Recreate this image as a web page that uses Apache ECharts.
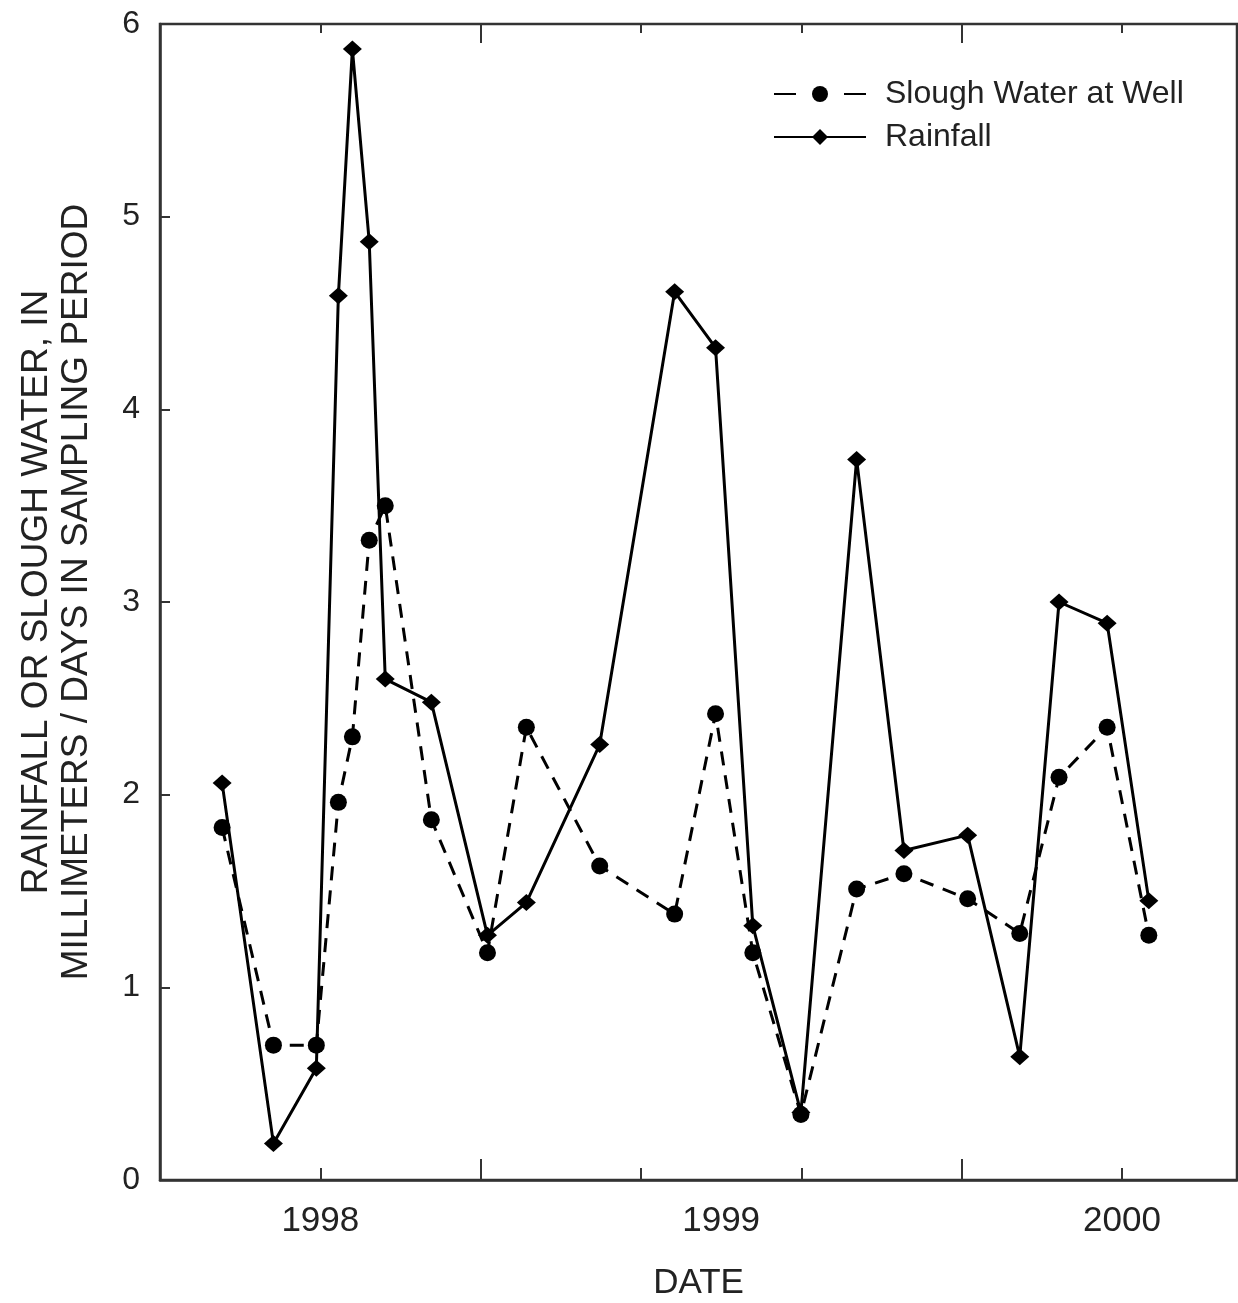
<!DOCTYPE html>
<html>
<head>
<meta charset="utf-8">
<title>Rainfall and slough water</title>
<script src="https://cdn.jsdelivr.net/npm/echarts@6/dist/echarts.min.js"></script>
<style>
  html, body { margin: 0; padding: 0; background: #fff; }
  #chart { width: 1238px; height: 1303px; }
</style>
</head>
<body>
<div id="chart"></div>
<script>
// Sampling dates as decimal years (end of each sampling period)
const sampleDates = [1997.755, 1997.883, 1997.990, 1998.045, 1998.080, 1998.122, 1998.162,
  1998.277, 1998.417, 1998.514, 1998.697, 1998.884, 1998.986, 1999.079, 1999.199,
  1999.338, 1999.456, 1999.615, 1999.745, 1999.843, 1999.963, 2000.067];

// Millimeters per day in each sampling period
const rainfall = [2.06, 0.19, 0.58, 4.59, 5.87, 4.87, 2.60, 2.48, 1.27, 1.44, 2.26,
  4.61, 4.32, 1.32, 0.35, 3.74, 1.71, 1.79, 0.64, 3.00, 2.89, 1.45];
const sloughWater = [1.83, 0.70, 0.70, 1.96, 2.30, 3.32, 3.50, 1.87, 1.18, 2.35, 1.63,
  1.38, 2.42, 1.18, 0.34, 1.51, 1.59, 1.46, 1.28, 2.09, 2.35, 1.27];

// Axis marks
const yearLabels = [1998, 1999, 2000];
const shortTicks = [1998.0, 1998.8, 1999.2, 2000.0];
const longTicks = [1998.4, 1999.6];

const X_MIN = 1997.6, X_MAX = 2000.287;
const FONT = '"Liberation Sans", Arial, Helvetica, sans-serif';
const INK = '#222';
const AXIS = '#333';

function pairs(xs, ys) { return xs.map((x, i) => [x, ys[i]]); }

function tickAxis(position, ticks, len, withLabels) {
  return {
    type: 'value', position: position, min: X_MIN, max: X_MAX,
    axisLine: { show: withLabels, lineStyle: { color: AXIS, width: 2.5 } },
    splitLine: { show: false },
    axisTick: { show: true, inside: true, length: len, customValues: ticks,
      lineStyle: { color: AXIS, width: 2 } },
    axisLabel: withLabels ? {
      show: true, customValues: yearLabels, margin: 24,
      fontSize: 35, color: INK, fontFamily: FONT,
      formatter: v => String(Math.round(v))
    } : { show: false },
    name: withLabels ? 'DATE' : '',
    nameLocation: 'middle', nameGap: 86,
    nameTextStyle: { fontSize: 35, color: INK, fontFamily: FONT }
  };
}

const chart = echarts.init(document.getElementById('chart'), null, { renderer: 'canvas' });
chart.setOption({
  animation: false,
  backgroundColor: '#fff',
  grid: { left: 160, right: 1, top: 24, bottom: 123, show: true,
    outerBoundsMode: 'none', containLabel: false,
    borderColor: AXIS, borderWidth: 2.5, backgroundColor: 'transparent' },
  xAxis: [
    tickAxis('bottom', shortTicks, 12, true),
    tickAxis('bottom', longTicks, 21, false),
    tickAxis('top', shortTicks, 9, false),
    tickAxis('top', longTicks, 19, false)
  ],
  yAxis: {
    type: 'value', min: 0, max: 6, interval: 1,
    axisLine: { show: true, lineStyle: { color: AXIS, width: 2.5 } },
    splitLine: { show: false },
    axisTick: { show: true, inside: true, length: 10, lineStyle: { color: AXIS, width: 2 } },
    axisLabel: { margin: 20, fontSize: 32, color: INK, fontFamily: FONT },
    name: 'RAINFALL OR SLOUGH WATER, IN\nMILLIMETERS / DAYS IN SAMPLING PERIOD',
    nameLocation: 'middle', nameRotate: 90, nameGap: 63,
    nameTextStyle: { fontSize: 37, lineHeight: 40, color: INK, fontFamily: FONT,
      padding: [0, 0, 0, 20] }
  },
  legend: {
    orient: 'vertical', left: 768, top: 73,
    itemWidth: 92, itemHeight: 20, itemGap: 11,
    textStyle: { fontSize: 32, lineHeight: 31, color: INK, fontFamily: FONT, padding: [0, 0, 0, 14] },
    data: [
      { name: 'Slough Water at Well', lineStyle: { type: [22, 48] } },
      { name: 'Rainfall' }
    ]
  },
  series: [
    {
      name: 'Slough Water at Well', type: 'line', xAxisIndex: 0,
      data: pairs(sampleDates, sloughWater),
      symbol: 'circle', symbolSize: 17,
      itemStyle: { color: '#000' },
      lineStyle: { color: '#000', width: 3, type: [14, 10] }
    },
    {
      name: 'Rainfall', type: 'line', xAxisIndex: 0,
      data: pairs(sampleDates, rainfall),
      symbol: 'diamond', symbolSize: [19, 17],
      itemStyle: { color: '#000' },
      lineStyle: { color: '#000', width: 3, type: 'solid' }
    }
  ]
});
</script>
</body>
</html>
